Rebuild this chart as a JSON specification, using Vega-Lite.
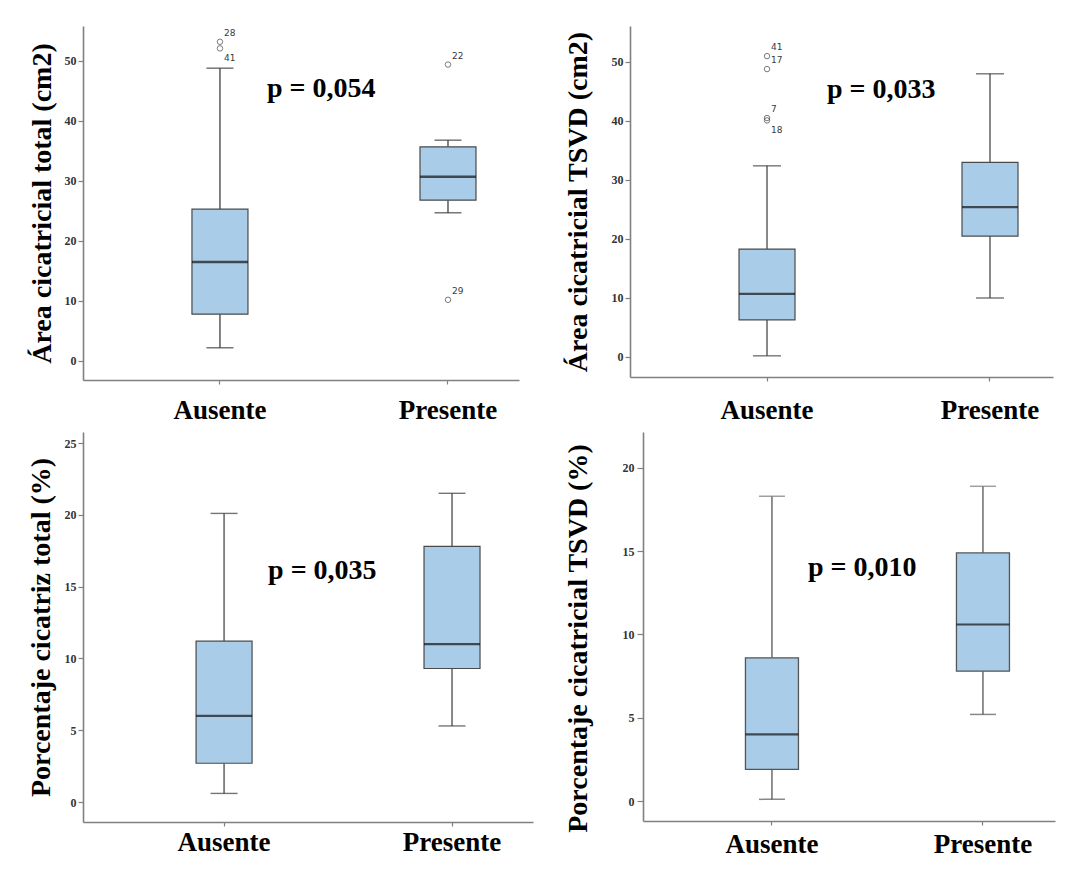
{
  "$schema": "https://vega.github.io/schema/vega-lite/v6.json",
  "padding": {"left": 27, "top": 26, "right": 10, "bottom": 10},
  "background": "white",
  "datasets": {
    "cajas": [
      {"panel": "p1", "grupo": "Ausente", "lo": 2.2, "q1": 7.8, "med": 16.5, "q3": 25.3, "hi": 48.8},
      {"panel": "p1", "grupo": "Presente", "lo": 24.7, "q1": 26.8, "med": 30.7, "q3": 35.7, "hi": 36.8},
      {"panel": "p2", "grupo": "Ausente", "lo": 0.2, "q1": 6.3, "med": 10.7, "q3": 18.3, "hi": 32.4},
      {"panel": "p2", "grupo": "Presente", "lo": 10.0, "q1": 20.5, "med": 25.4, "q3": 33.0, "hi": 48.0},
      {"panel": "p3", "grupo": "Ausente", "lo": 0.6, "q1": 2.7, "med": 6.0, "q3": 11.2, "hi": 20.1},
      {"panel": "p3", "grupo": "Presente", "lo": 5.3, "q1": 9.3, "med": 11.0, "q3": 17.8, "hi": 21.5},
      {"panel": "p4", "grupo": "Ausente", "lo": 0.1, "q1": 1.9, "med": 4.0, "q3": 8.6, "hi": 18.3},
      {"panel": "p4", "grupo": "Presente", "lo": 5.2, "q1": 7.8, "med": 10.6, "q3": 14.9, "hi": 18.9}
    ],
    "atipicos": [
      {"panel": "p1", "grupo": "Ausente", "valor": 53.2, "caso": 28},
      {"panel": "p1", "grupo": "Ausente", "valor": 52.1, "caso": 41},
      {"panel": "p1", "grupo": "Presente", "valor": 49.4, "caso": 22},
      {"panel": "p1", "grupo": "Presente", "valor": 10.2, "caso": 29},
      {"panel": "p2", "grupo": "Ausente", "valor": 51.0, "caso": 41},
      {"panel": "p2", "grupo": "Ausente", "valor": 48.8, "caso": 17},
      {"panel": "p2", "grupo": "Ausente", "valor": 40.5, "caso": 7},
      {"panel": "p2", "grupo": "Ausente", "valor": 40.1, "caso": 18}
    ],
    "pvalores": [
      {"panel": "p1", "grupo": "Ausente", "texto": "p = 0,054", "nivel": 44.0},
      {"panel": "p2", "grupo": "Ausente", "texto": "p = 0,033", "nivel": 43.9},
      {"panel": "p3", "grupo": "Ausente", "texto": "p = 0,035", "nivel": 15.5},
      {"panel": "p4", "grupo": "Ausente", "texto": "p = 0,010", "nivel": 13.5}
    ]
  },
  "spacing": 9,
  "vconcat": [
    {
      "hconcat": [
        {
          "width": 436,
          "height": 354,
          "encoding": {
            "x": {"field": "grupo", "type": "nominal", "sort": ["Ausente", "Presente"],
                  "scale": {"domain": ["Ausente", "Presente"], "paddingInner": 0.5, "paddingOuter": 0.206, "align": 0.851},
                  "axis": {"title": null, "bandPosition": 0.5, "labelPadding": 13}}
          },
          "layer": [
            {"data": {"name": "cajas"}, "transform": [{"filter": "datum.panel == 'p1'"}],
             "mark": {"type": "rule", "color": "#2e2e2e", "strokeWidth": 1.2},
             "encoding": {"y": {"field": "lo", "type": "quantitative", "scale": {"domain": [-3.17, 55.83], "nice": false, "zero": false},
                                "axis": {"title": "Área cicatricial total (cm2)", "values": [0, 10, 20, 30, 40, 50], "titlePadding": 8}},
                          "y2": {"field": "q1"}}},
            {"data": {"name": "cajas"}, "transform": [{"filter": "datum.panel == 'p1'"}],
             "mark": {"type": "rule", "color": "#2e2e2e", "strokeWidth": 1.2},
             "encoding": {"y": {"field": "q3", "type": "quantitative", "scale": {"domain": [-3.17, 55.83], "nice": false, "zero": false},
                                "axis": {"title": "Área cicatricial total (cm2)", "values": [0, 10, 20, 30, 40, 50], "titlePadding": 8}},
                          "y2": {"field": "hi"}}},
            {"data": {"name": "cajas"}, "transform": [{"filter": "datum.panel == 'p1'"}],
             "mark": {"type": "tick", "color": "#2e2e2e", "size": 27, "thickness": 1.4},
             "encoding": {"y": {"field": "lo", "type": "quantitative", "scale": {"domain": [-3.17, 55.83], "nice": false, "zero": false},
                                "axis": {"title": "Área cicatricial total (cm2)", "values": [0, 10, 20, 30, 40, 50], "titlePadding": 8}}}},
            {"data": {"name": "cajas"}, "transform": [{"filter": "datum.panel == 'p1'"}],
             "mark": {"type": "tick", "color": "#2e2e2e", "size": 27, "thickness": 1.4},
             "encoding": {"y": {"field": "hi", "type": "quantitative", "scale": {"domain": [-3.17, 55.83], "nice": false, "zero": false},
                                "axis": {"title": "Área cicatricial total (cm2)", "values": [0, 10, 20, 30, 40, 50], "titlePadding": 8}}}},
            {"data": {"name": "cajas"}, "transform": [{"filter": "datum.panel == 'p1'"}],
             "mark": {"type": "bar", "size": 56, "fill": "#a9cce9", "stroke": "#4a4a4a", "strokeWidth": 1.2},
             "encoding": {"y": {"field": "q1", "type": "quantitative", "scale": {"domain": [-3.17, 55.83], "nice": false, "zero": false},
                                "axis": {"title": "Área cicatricial total (cm2)", "values": [0, 10, 20, 30, 40, 50], "titlePadding": 8}},
                          "y2": {"field": "q3"}}},
            {"data": {"name": "cajas"}, "transform": [{"filter": "datum.panel == 'p1'"}],
             "mark": {"type": "tick", "color": "#111111", "size": 56, "thickness": 2.4},
             "encoding": {"y": {"field": "med", "type": "quantitative", "scale": {"domain": [-3.17, 55.83], "nice": false, "zero": false},
                                "axis": {"title": "Área cicatricial total (cm2)", "values": [0, 10, 20, 30, 40, 50], "titlePadding": 8}}}},
            {"data": {"name": "atipicos"}, "transform": [{"filter": "datum.panel == 'p1'"}],
             "mark": {"type": "point", "shape": "circle", "size": 30, "filled": false, "color": "#444444", "strokeWidth": 1},
             "encoding": {"y": {"field": "valor", "type": "quantitative", "scale": {"domain": [-3.17, 55.83], "nice": false, "zero": false},
                                "axis": {"title": "Área cicatricial total (cm2)", "values": [0, 10, 20, 30, 40, 50], "titlePadding": 8}}}},
            {"data": {"name": "atipicos"}, "transform": [{"filter": "datum.panel == 'p1' && datum.caso != 41"}],
             "mark": {"type": "text", "font": "DejaVu Sans", "fontSize": 9, "color": "#3a3a3a", "align": "left", "baseline": "middle", "dx": 4, "dy": -9},
             "encoding": {"y": {"field": "valor", "type": "quantitative", "scale": {"domain": [-3.17, 55.83], "nice": false, "zero": false},
                                "axis": {"title": "Área cicatricial total (cm2)", "values": [0, 10, 20, 30, 40, 50], "titlePadding": 8}},
                          "text": {"field": "caso", "type": "nominal"}}},
            {"data": {"name": "atipicos"}, "transform": [{"filter": "datum.panel == 'p1' && datum.caso == 41"}],
             "mark": {"type": "text", "font": "DejaVu Sans", "fontSize": 9, "color": "#3a3a3a", "align": "left", "baseline": "middle", "dx": 4, "dy": 10},
             "encoding": {"y": {"field": "valor", "type": "quantitative", "scale": {"domain": [-3.17, 55.83], "nice": false, "zero": false},
                                "axis": {"title": "Área cicatricial total (cm2)", "values": [0, 10, 20, 30, 40, 50], "titlePadding": 8}},
                          "text": {"field": "caso", "type": "nominal"}}},
            {"data": {"name": "pvalores"}, "transform": [{"filter": "datum.panel == 'p1'"}],
             "mark": {"type": "text", "font": "Liberation Serif", "fontWeight": "bold", "fontSize": 28, "color": "#000000", "align": "left", "baseline": "alphabetic", "dx": 47},
             "encoding": {"y": {"field": "nivel", "type": "quantitative", "scale": {"domain": [-3.17, 55.83], "nice": false, "zero": false},
                                "axis": {"title": "Área cicatricial total (cm2)", "values": [0, 10, 20, 30, 40, 50], "titlePadding": 8}},
                          "text": {"field": "texto", "type": "nominal"}}}
          ]
        },
        {
          "width": 423,
          "height": 351,
          "encoding": {
            "x": {"field": "grupo", "type": "nominal", "sort": ["Ausente", "Presente"],
                  "scale": {"domain": ["Ausente", "Presente"], "paddingInner": 0.5, "paddingOuter": 0.1985, "align": 0.918},
                  "axis": {"title": null, "bandPosition": 0.5, "labelPadding": 16}}
          },
          "layer": [
            {"data": {"name": "cajas"}, "transform": [{"filter": "datum.panel == 'p2'"}],
             "mark": {"type": "rule", "color": "#3a3a3a", "strokeWidth": 1.2},
             "encoding": {"y": {"field": "lo", "type": "quantitative", "scale": {"domain": [-3.39, 56.1], "nice": false, "zero": false},
                                "axis": {"title": "Área cicatricial TSVD (cm2)", "values": [0, 10, 20, 30, 40, 50], "titlePadding": 19}},
                          "y2": {"field": "q1"}}},
            {"data": {"name": "cajas"}, "transform": [{"filter": "datum.panel == 'p2'"}],
             "mark": {"type": "rule", "color": "#3a3a3a", "strokeWidth": 1.2},
             "encoding": {"y": {"field": "q3", "type": "quantitative", "scale": {"domain": [-3.39, 56.1], "nice": false, "zero": false},
                                "axis": {"title": "Área cicatricial TSVD (cm2)", "values": [0, 10, 20, 30, 40, 50], "titlePadding": 19}},
                          "y2": {"field": "hi"}}},
            {"data": {"name": "cajas"}, "transform": [{"filter": "datum.panel == 'p2'"}],
             "mark": {"type": "tick", "color": "#3a3a3a", "size": 28, "thickness": 1.4},
             "encoding": {"y": {"field": "lo", "type": "quantitative", "scale": {"domain": [-3.39, 56.1], "nice": false, "zero": false},
                                "axis": {"title": "Área cicatricial TSVD (cm2)", "values": [0, 10, 20, 30, 40, 50], "titlePadding": 19}}}},
            {"data": {"name": "cajas"}, "transform": [{"filter": "datum.panel == 'p2'"}],
             "mark": {"type": "tick", "color": "#3a3a3a", "size": 28, "thickness": 1.4},
             "encoding": {"y": {"field": "hi", "type": "quantitative", "scale": {"domain": [-3.39, 56.1], "nice": false, "zero": false},
                                "axis": {"title": "Área cicatricial TSVD (cm2)", "values": [0, 10, 20, 30, 40, 50], "titlePadding": 19}}}},
            {"data": {"name": "cajas"}, "transform": [{"filter": "datum.panel == 'p2'"}],
             "mark": {"type": "bar", "size": 56, "fill": "#a9cce9", "stroke": "#4a4a4a", "strokeWidth": 1.2},
             "encoding": {"y": {"field": "q1", "type": "quantitative", "scale": {"domain": [-3.39, 56.1], "nice": false, "zero": false},
                                "axis": {"title": "Área cicatricial TSVD (cm2)", "values": [0, 10, 20, 30, 40, 50], "titlePadding": 19}},
                          "y2": {"field": "q3"}}},
            {"data": {"name": "cajas"}, "transform": [{"filter": "datum.panel == 'p2'"}],
             "mark": {"type": "tick", "color": "#111111", "size": 56, "thickness": 2.4},
             "encoding": {"y": {"field": "med", "type": "quantitative", "scale": {"domain": [-3.39, 56.1], "nice": false, "zero": false},
                                "axis": {"title": "Área cicatricial TSVD (cm2)", "values": [0, 10, 20, 30, 40, 50], "titlePadding": 19}}}},
            {"data": {"name": "atipicos"}, "transform": [{"filter": "datum.panel == 'p2'"}],
             "mark": {"type": "point", "shape": "circle", "size": 30, "filled": false, "color": "#444444", "strokeWidth": 1},
             "encoding": {"y": {"field": "valor", "type": "quantitative", "scale": {"domain": [-3.39, 56.1], "nice": false, "zero": false},
                                "axis": {"title": "Área cicatricial TSVD (cm2)", "values": [0, 10, 20, 30, 40, 50], "titlePadding": 19}}}},
            {"data": {"name": "atipicos"}, "transform": [{"filter": "datum.panel == 'p2' && datum.caso != 18"}],
             "mark": {"type": "text", "font": "DejaVu Sans", "fontSize": 9, "color": "#3a3a3a", "align": "left", "baseline": "middle", "dx": 4, "dy": -9},
             "encoding": {"y": {"field": "valor", "type": "quantitative", "scale": {"domain": [-3.39, 56.1], "nice": false, "zero": false},
                                "axis": {"title": "Área cicatricial TSVD (cm2)", "values": [0, 10, 20, 30, 40, 50], "titlePadding": 19}},
                          "text": {"field": "caso", "type": "nominal"}}},
            {"data": {"name": "atipicos"}, "transform": [{"filter": "datum.panel == 'p2' && datum.caso == 18"}],
             "mark": {"type": "text", "font": "DejaVu Sans", "fontSize": 9, "color": "#3a3a3a", "align": "left", "baseline": "middle", "dx": 4, "dy": 10},
             "encoding": {"y": {"field": "valor", "type": "quantitative", "scale": {"domain": [-3.39, 56.1], "nice": false, "zero": false},
                                "axis": {"title": "Área cicatricial TSVD (cm2)", "values": [0, 10, 20, 30, 40, 50], "titlePadding": 19}},
                          "text": {"field": "caso", "type": "nominal"}}},
            {"data": {"name": "pvalores"}, "transform": [{"filter": "datum.panel == 'p2'"}],
             "mark": {"type": "text", "font": "Liberation Serif", "fontWeight": "bold", "fontSize": 28, "color": "#000000", "align": "left", "baseline": "alphabetic", "dx": 60},
             "encoding": {"y": {"field": "nivel", "type": "quantitative", "scale": {"domain": [-3.39, 56.1], "nice": false, "zero": false},
                                "axis": {"title": "Área cicatricial TSVD (cm2)", "values": [0, 10, 20, 30, 40, 50], "titlePadding": 19}},
                          "text": {"field": "texto", "type": "nominal"}}}
          ]
        }
      ],
      "spacing": 111,
      "bounds": "flush"
    },
    {
      "hconcat": [
        {
          "width": 450,
          "height": 390,
          "encoding": {
            "x": {"field": "grupo", "type": "nominal", "sort": ["Ausente", "Presente"],
                  "scale": {"domain": ["Ausente", "Presente"], "paddingInner": 0.5, "paddingOuter": 0.237, "align": 0.778},
                  "axis": {"title": null, "bandPosition": 0.5, "labelPadding": 3}}
          },
          "layer": [
            {"data": {"name": "cajas"}, "transform": [{"filter": "datum.panel == 'p3'"}],
             "mark": {"type": "rule", "color": "#3a3a3a", "strokeWidth": 1.2},
             "encoding": {"y": {"field": "lo", "type": "quantitative", "scale": {"domain": [-1.39, 25.77], "nice": false, "zero": false},
                                "axis": {"title": "Porcentaje cicatriz total (%)", "values": [0, 5, 10, 15, 20, 25], "titlePadding": 9}},
                          "y2": {"field": "q1"}}},
            {"data": {"name": "cajas"}, "transform": [{"filter": "datum.panel == 'p3'"}],
             "mark": {"type": "rule", "color": "#3a3a3a", "strokeWidth": 1.2},
             "encoding": {"y": {"field": "q3", "type": "quantitative", "scale": {"domain": [-1.39, 25.77], "nice": false, "zero": false},
                                "axis": {"title": "Porcentaje cicatriz total (%)", "values": [0, 5, 10, 15, 20, 25], "titlePadding": 9}},
                          "y2": {"field": "hi"}}},
            {"data": {"name": "cajas"}, "transform": [{"filter": "datum.panel == 'p3'"}],
             "mark": {"type": "tick", "color": "#3a3a3a", "size": 27, "thickness": 1.4},
             "encoding": {"y": {"field": "lo", "type": "quantitative", "scale": {"domain": [-1.39, 25.77], "nice": false, "zero": false},
                                "axis": {"title": "Porcentaje cicatriz total (%)", "values": [0, 5, 10, 15, 20, 25], "titlePadding": 9}}}},
            {"data": {"name": "cajas"}, "transform": [{"filter": "datum.panel == 'p3'"}],
             "mark": {"type": "tick", "color": "#3a3a3a", "size": 27, "thickness": 1.4},
             "encoding": {"y": {"field": "hi", "type": "quantitative", "scale": {"domain": [-1.39, 25.77], "nice": false, "zero": false},
                                "axis": {"title": "Porcentaje cicatriz total (%)", "values": [0, 5, 10, 15, 20, 25], "titlePadding": 9}}}},
            {"data": {"name": "cajas"}, "transform": [{"filter": "datum.panel == 'p3'"}],
             "mark": {"type": "bar", "size": 56, "fill": "#a9cce9", "stroke": "#4a4a4a", "strokeWidth": 1.2},
             "encoding": {"y": {"field": "q1", "type": "quantitative", "scale": {"domain": [-1.39, 25.77], "nice": false, "zero": false},
                                "axis": {"title": "Porcentaje cicatriz total (%)", "values": [0, 5, 10, 15, 20, 25], "titlePadding": 9}},
                          "y2": {"field": "q3"}}},
            {"data": {"name": "cajas"}, "transform": [{"filter": "datum.panel == 'p3'"}],
             "mark": {"type": "tick", "color": "#111111", "size": 56, "thickness": 2.2},
             "encoding": {"y": {"field": "med", "type": "quantitative", "scale": {"domain": [-1.39, 25.77], "nice": false, "zero": false},
                                "axis": {"title": "Porcentaje cicatriz total (%)", "values": [0, 5, 10, 15, 20, 25], "titlePadding": 9}}}},
            {"data": {"name": "pvalores"}, "transform": [{"filter": "datum.panel == 'p3'"}],
             "mark": {"type": "text", "font": "Liberation Serif", "fontWeight": "bold", "fontSize": 28, "color": "#000000", "align": "left", "baseline": "alphabetic", "dx": 44},
             "encoding": {"y": {"field": "nivel", "type": "quantitative", "scale": {"domain": [-1.39, 25.77], "nice": false, "zero": false},
                                "axis": {"title": "Porcentaje cicatriz total (%)", "values": [0, 5, 10, 15, 20, 25], "titlePadding": 9}},
                          "text": {"field": "texto", "type": "nominal"}}}
          ]
        },
        {
          "width": 412,
          "height": 389,
          "encoding": {
            "x": {"field": "grupo", "type": "nominal", "sort": ["Ausente", "Presente"],
                  "scale": {"domain": ["Ausente", "Presente"], "paddingInner": 0.5, "paddingOuter": 0.2263, "align": 0.798},
                  "axis": {"title": null, "bandPosition": 0.5, "labelPadding": 6}}
          },
          "layer": [
            {"data": {"name": "cajas"}, "transform": [{"filter": "datum.panel == 'p4'"}],
             "mark": {"type": "rule", "color": "#555555", "strokeWidth": 1.3},
             "encoding": {"y": {"field": "lo", "type": "quantitative", "scale": {"domain": [-1.2, 22.16], "nice": false, "zero": false},
                                "axis": {"title": "Porcentaje cicatricial TSVD (%)", "values": [0, 5, 10, 15, 20], "titlePadding": 30, "labelPadding": 3, "tickSize": 6, "titleY": 206}},
                          "y2": {"field": "q1"}}},
            {"data": {"name": "cajas"}, "transform": [{"filter": "datum.panel == 'p4'"}],
             "mark": {"type": "rule", "color": "#555555", "strokeWidth": 1.3},
             "encoding": {"y": {"field": "q3", "type": "quantitative", "scale": {"domain": [-1.2, 22.16], "nice": false, "zero": false},
                                "axis": {"title": "Porcentaje cicatricial TSVD (%)", "values": [0, 5, 10, 15, 20], "titlePadding": 30, "labelPadding": 3, "tickSize": 6, "titleY": 206}},
                          "y2": {"field": "hi"}}},
            {"data": {"name": "cajas"}, "transform": [{"filter": "datum.panel == 'p4'"}],
             "mark": {"type": "tick", "color": "#555555", "size": 26, "thickness": 1.5},
             "encoding": {"y": {"field": "lo", "type": "quantitative", "scale": {"domain": [-1.2, 22.16], "nice": false, "zero": false},
                                "axis": {"title": "Porcentaje cicatricial TSVD (%)", "values": [0, 5, 10, 15, 20], "titlePadding": 30, "labelPadding": 3, "tickSize": 6, "titleY": 206}}}},
            {"data": {"name": "cajas"}, "transform": [{"filter": "datum.panel == 'p4'"}],
             "mark": {"type": "tick", "color": "#777777", "size": 26, "thickness": 1.5},
             "encoding": {"y": {"field": "hi", "type": "quantitative", "scale": {"domain": [-1.2, 22.16], "nice": false, "zero": false},
                                "axis": {"title": "Porcentaje cicatricial TSVD (%)", "values": [0, 5, 10, 15, 20], "titlePadding": 30, "labelPadding": 3, "tickSize": 6, "titleY": 206}}}},
            {"data": {"name": "cajas"}, "transform": [{"filter": "datum.panel == 'p4'"}],
             "mark": {"type": "bar", "size": 53, "fill": "#a9cce9", "stroke": "#555555", "strokeWidth": 1.3},
             "encoding": {"y": {"field": "q1", "type": "quantitative", "scale": {"domain": [-1.2, 22.16], "nice": false, "zero": false},
                                "axis": {"title": "Porcentaje cicatricial TSVD (%)", "values": [0, 5, 10, 15, 20], "titlePadding": 30, "labelPadding": 3, "tickSize": 6, "titleY": 206}},
                          "y2": {"field": "q3"}}},
            {"data": {"name": "cajas"}, "transform": [{"filter": "datum.panel == 'p4'"}],
             "mark": {"type": "tick", "color": "#111111", "size": 53, "thickness": 2.2},
             "encoding": {"y": {"field": "med", "type": "quantitative", "scale": {"domain": [-1.2, 22.16], "nice": false, "zero": false},
                                "axis": {"title": "Porcentaje cicatricial TSVD (%)", "values": [0, 5, 10, 15, 20], "titlePadding": 30, "labelPadding": 3, "tickSize": 6, "titleY": 206}}}},
            {"data": {"name": "pvalores"}, "transform": [{"filter": "datum.panel == 'p4'"}],
             "mark": {"type": "text", "font": "Liberation Serif", "fontWeight": "bold", "fontSize": 28, "color": "#000000", "align": "left", "baseline": "alphabetic", "dx": 36},
             "encoding": {"y": {"field": "nivel", "type": "quantitative", "scale": {"domain": [-1.2, 22.16], "nice": false, "zero": false},
                                "axis": {"title": "Porcentaje cicatricial TSVD (%)", "values": [0, 5, 10, 15, 20], "titlePadding": 30, "labelPadding": 3, "tickSize": 6, "titleY": 206}},
                          "text": {"field": "texto", "type": "nominal"}}}
          ]
        }
      ],
      "spacing": 110,
      "bounds": "flush"
    }
  ],
  "config": {
    "view": {"stroke": null},
    "font": "Liberation Serif",
    "axis": {
      "grid": false,
      "domainColor": "#808080",
      "domainWidth": 1.6,
      "tickColor": "#808080",
      "tickWidth": 1.2,
      "labelFont": "Liberation Serif",
      "labelFontWeight": "bold",
      "titleFont": "Liberation Serif",
      "titleFontWeight": "bold",
      "titleColor": "#000000"
    },
    "axisY": {"labelFontSize": 12, "labelColor": "#333333", "tickSize": 5, "labelPadding": 2, "titleFontSize": 28},
    "axisX": {"labelFontSize": 27, "labelColor": "#000000", "tickSize": 4, "labelAngle": 0}
  }
}
